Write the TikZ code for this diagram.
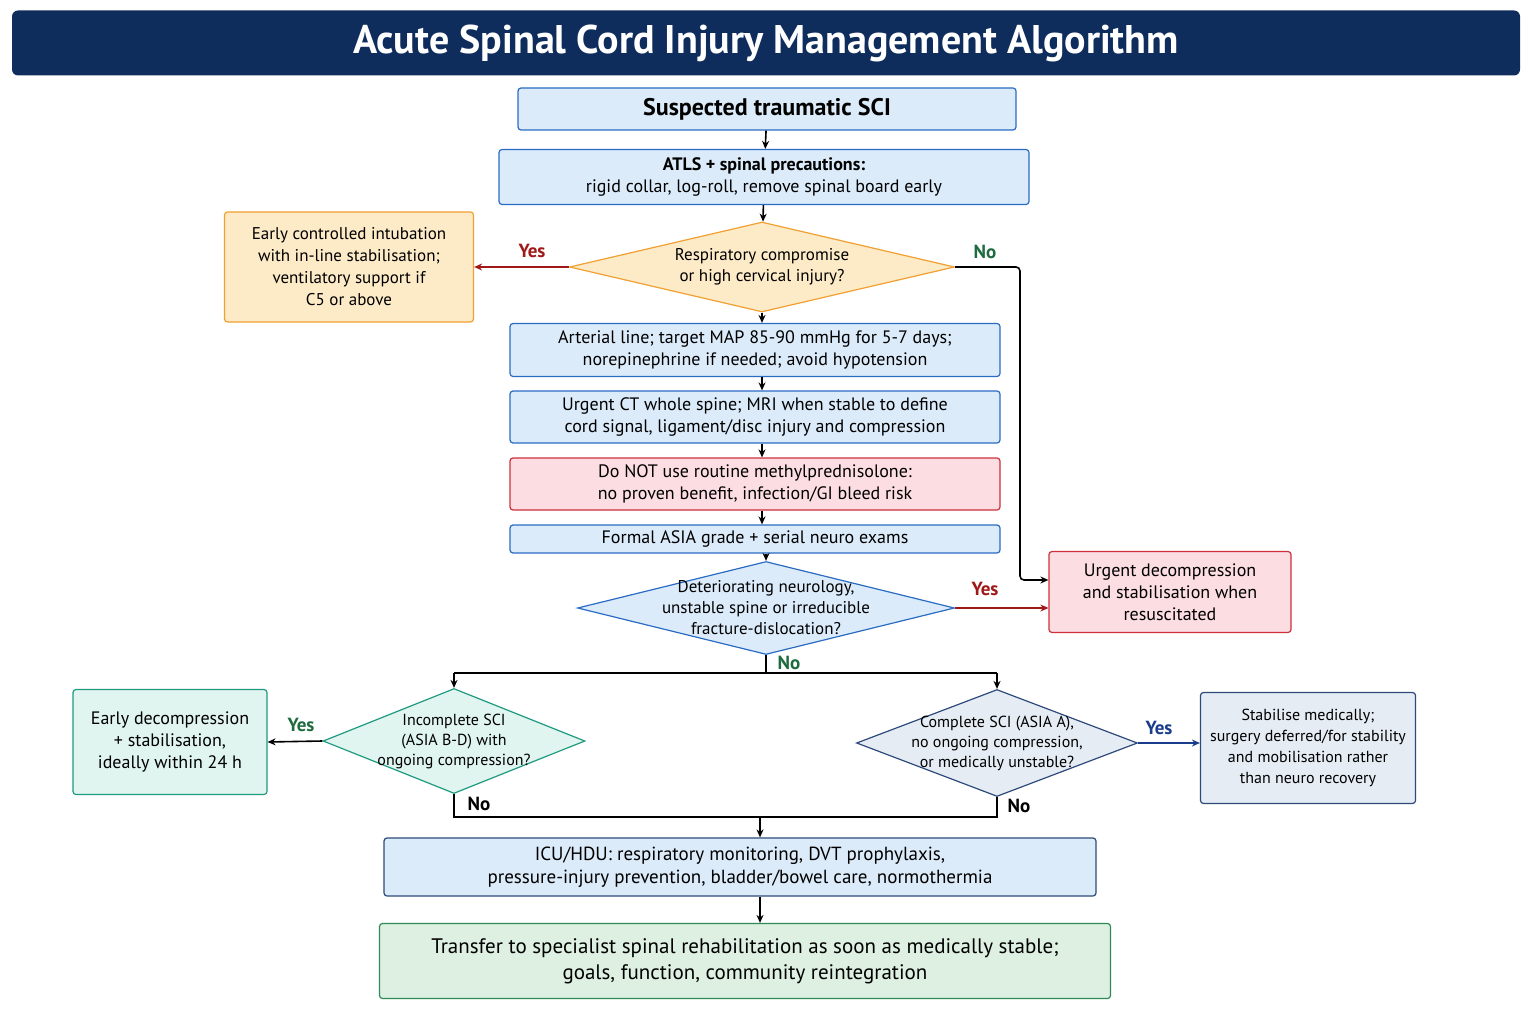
\documentclass[tikz,border=0pt]{standalone}
\usepackage{fontspec}
\setmainfont{PT Sans}
\usetikzlibrary{positioning}
\usetikzlibrary{arrows.meta}
\usetikzlibrary{shapes.geometric}

\definecolor{navy}{HTML}{0F2D5C}
\definecolor{bluefill}{HTML}{DCEBFA}
\definecolor{blueline}{HTML}{2A6BC4}
\definecolor{orfill}{HTML}{FDEBC8}
\definecolor{orline}{HTML}{F0A030}
\definecolor{redfill}{HTML}{FBDDE2}
\definecolor{redline}{HTML}{D0303A}
\definecolor{tealfill}{HTML}{E0F5EF}
\definecolor{tealline}{HTML}{1E9A80}
\definecolor{grfill}{HTML}{DDF0E2}
\definecolor{grline}{HTML}{2E8B57}
\definecolor{slfill}{HTML}{E6ECF4}
\definecolor{slline}{HTML}{2E4A7A}
\definecolor{yesred}{HTML}{A01818}
\definecolor{nogreen}{HTML}{1E6B40}
\definecolor{yesblue}{HTML}{1A3C8C}

\begin{document}
\begin{tikzpicture}[x=1pt,y=-1pt,
    box/.style={draw, rounded corners=3pt, line width=1.2pt, align=center, inner sep=0pt,
      font=\fontsize{18}{22}\selectfont},
    bluebox/.style={box, fill=bluefill, draw=blueline},
    orbox/.style={box, fill=orfill, draw=orline},
    redbox/.style={box, fill=redfill, draw=redline},
    dia/.style={draw, diamond, line width=1.2pt, inner sep=0pt},
    dtext/.style={align=center, font=\fontsize{17}{21}\selectfont},
    arr/.style={-{Stealth[length=8pt,width=7pt]}, line width=1.6pt},
    lbl/.style={font=\bfseries\fontsize{19}{22}\selectfont},
    ]
    \useasboundingbox (0,0) rectangle (1536,1024);

    % title
    \node (title) [fill=navy, rounded corners=6pt, minimum width=1508, minimum height=65,
      text=white, font=\bfseries\fontsize{40}{44}\selectfont] at (766,43)
      {Acute Spinal Cord Injury Management Algorithm};

    % main column
    \node (susp) [bluebox, minimum width=498, minimum height=42, font=\bfseries\fontsize{24}{28}\selectfont]
      at (767,109) {Suspected traumatic SCI};
    \node (atls) [bluebox, minimum width=530, minimum height=55] at (764,177)
      {\textbf{ATLS + spinal precautions:}\\rigid collar, log-roll, remove spinal board early};
    \node (resp) [dia, fill=orfill, draw=orline, minimum width=385, minimum height=90] at (762,267) {};
    \node (resptx) [dtext] at (resp) {Respiratory compromise\\or high cervical injury?};
    \node (intub) [orbox, minimum width=249, minimum height=110, font=\fontsize{17}{22}\selectfont]
      at (349,267) {Early controlled intubation\\with in-line stabilisation;\\ventilatory support if\\C5 or above};
    \node (map) [bluebox, minimum width=490, minimum height=53] at (755,350)
      {Arterial line; target MAP 85-90 mmHg for 5-7 days;\\norepinephrine if needed; avoid hypotension};
    \node (ct) [bluebox, minimum width=490, minimum height=52] at (755,417)
      {Urgent CT whole spine; MRI when stable to define\\cord signal, ligament/disc injury and compression};
    \node (steroid) [redbox, minimum width=490, minimum height=52] at (755,484)
      {Do NOT use routine methylprednisolone:\\no proven benefit, infection/GI bleed risk};
    \node (asia) [bluebox, minimum width=490, minimum height=28] at (755,539)
      {Formal ASIA grade + serial neuro exams};
    \node (neuro) [dia, fill=bluefill, draw=blueline, minimum width=377, minimum height=93] at (766,608) {};
    \node (neurotx) [dtext] at (neuro) {Deteriorating neurology,\\unstable spine or irreducible\\fracture-dislocation?};
    \node (urgent) [redbox, minimum width=242, minimum height=81] at (1170,592)
      {Urgent decompression\\and stabilisation when\\resuscitated};

    % split
    \coordinate (split) at (766,673);
    \coordinate (splitl) at (454,673);
    \coordinate (splitr) at (997,673);
    \node (incomp) [dia, fill=tealfill, draw=tealline, minimum width=262, minimum height=105] at (454,741) {};
    \node (incomptx) [dtext, font=\fontsize{16}{20}\selectfont] at (incomp) {Incomplete SCI\\(ASIA B-D) with\\ongoing compression?};
    \node (early) [box, fill=tealfill, draw=tealline, minimum width=194, minimum height=105] at (170,742)
      {Early decompression\\+ stabilisation,\\ideally within 24 h};
    \node (comp) [dia, fill=slfill, draw=slline, minimum width=281, minimum height=107] at (997,743) {};
    \node (comptx) [dtext, font=\fontsize{16}{20}\selectfont] at (comp) {Complete SCI (ASIA A),\\no ongoing compression,\\or medically unstable?};
    \node (stab) [box, fill=slfill, draw=slline, minimum width=215, minimum height=111, font=\fontsize{16}{21}\selectfont]
      at (1308,748) {Stabilise medically;\\surgery deferred/for stability\\and mobilisation rather\\than neuro recovery};

    % merge
    \coordinate (mergel) at (454,817);
    \coordinate (merger) at (997,817);
    \coordinate (merge) at (760,817);
    \node (icu) [bluebox, draw=slline, minimum width=712, minimum height=58, font=\fontsize{19}{23}\selectfont] at (740,867)
      {ICU/HDU: respiratory monitoring, DVT prophylaxis,\\pressure-injury prevention, bladder/bowel care, normothermia};
    \node (rehab) [box, fill=grfill, draw=grline, minimum width=731, minimum height=75, font=\fontsize{21}{26}\selectfont] at (745,961)
      {Transfer to specialist spinal rehabilitation as soon as medically stable;\\goals, function, community reintegration};

    % connectors
    \draw[arr] (susp) -- (atls);
    \draw[arr] (atls) -- (resp);
    \draw[arr, yesred] (resp.west) -- (intub.east);
    \node[lbl, text=yesred] at (532,251) {Yes};
    \draw[arr] (resp.south) -- (resp.south |- map.north);
    \draw[arr, rounded corners=4pt] (resp.east) -| (1020,580) -- (urgent.west |- 0,580);
    \node[lbl, text=nogreen] at (985,252) {No};
    \draw[arr] (map.south -| resp.south) -- (ct.north -| resp.south);
    \draw[arr] (ct.south -| resp.south) -- (steroid.north -| resp.south);
    \draw[arr] (steroid.south -| resp.south) -- (asia.north -| resp.south);
    \draw[arr] (asia.south -| neuro.north) -- (neuro.north);
    \draw[arr, yesred] (neuro.east) -- (urgent.west |- neuro.east);
    \node[lbl, text=yesred] at (985,589) {Yes};
    \draw[line width=1.6pt] (neuro.south) -- (split);
    \node[lbl, text=nogreen] at (789,663) {No};
    \draw[arr] (splitl) -- (splitr) (splitl) -- (incomp.north);
    \draw[arr] (splitr) -- (comp.north);
    \draw[arr] (incomp.west) -- (early.east);
    \node[lbl, text=nogreen] at (301,725) {Yes};
    \draw[arr, yesblue] (comp.east) -- (stab.west |- comp.east);
    \node[lbl, text=yesblue] at (1159,728) {Yes};
    \draw[line width=1.6pt] (incomp.south) -- (mergel) -- (merger) -- (comp.south);
    \node[lbl, text=black] at (479,804) {No};
    \node[lbl, text=black] at (1019,806) {No};
    \draw[arr] (merge) -- (merge |- icu.north);
    \draw[arr] (icu.south -| merge) -- (rehab.north -| merge);
\end{tikzpicture}
\end{document}
